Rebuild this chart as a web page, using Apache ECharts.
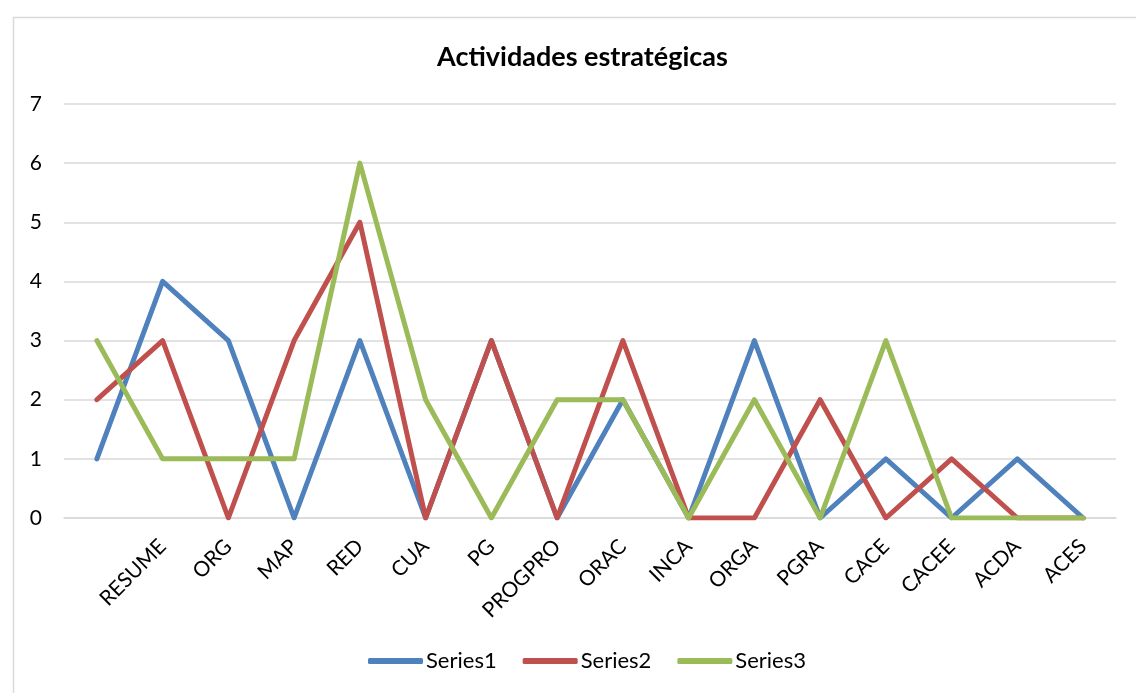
<!DOCTYPE html>
<html>
<head>
<meta charset="utf-8">
<script src="https://cdn.jsdelivr.net/npm/echarts@6/dist/echarts.min.js"></script>
<style>
html,body{margin:0;padding:0;background:#fff;}
#c{width:1136px;height:693px;}
</style>
</head>
<body>
<div id="c"></div>
<script>
const categories = ["", "RESUME", "ORG", "MAP", "RED", "CUA", "PG", "PROGPRO", "ORAC", "INCA", "ORGA", "PGRA", "CACE", "CACEE", "ACDA", "ACES"];
const series1 = [1, 4, 3, 0, 3, 0, 3, 0, 2, 0, 3, 0, 1, 0, 1, 0];
const series2 = [2, 3, 0, 3, 5, 0, 3, 0, 3, 0, 0, 2, 0, 1, 0, 0];
const series3 = [3, 1, 1, 1, 6, 2, 0, 2, 2, 0, 2, 0, 3, 0, 0, 0];
const yTicks = [0, 1, 2, 3, 4, 5, 6, 7];

const FONT = 'Lato, "Open Sans", sans-serif';
const chart = echarts.init(document.getElementById('c'));
function mk(name, data, color) {
  return {
    name: name, type: 'line', data: data, symbol: 'none',
    lineStyle: { color: color, width: 5, cap: 'round', join: 'round' },
    itemStyle: { color: color },
    animation: false
  };
}
chart.setOption({
  backgroundColor: '#fff',
  animation: false,
  graphic: [{
    type: 'rect', left: 11, top: 15, silent: true, z: -10,
    shape: { width: 1140, height: 700 },
    style: { fill: 'none', stroke: '#d9d9d9', lineWidth: 1.5 }
  }],
  title: {
    text: 'Actividades estratégicas',
    left: 432, top: 39,
    textStyle: { fontFamily: FONT, fontWeight: 'bold', fontSize: 27, color: '#000' }
  },
  legend: {
    bottom: 16, left: 363,
    icon: 'roundRect',
    itemWidth: 55, itemHeight: 6, itemGap: 26,
    textStyle: { fontFamily: FONT, fontSize: 22, color: '#000', padding: [0, 0, 0, -2] },
    data: ['Series1', 'Series2', 'Series3']
  },
  grid: { left: 64, right: 20, top: 104, bottom: 175, containLabel: false },
  xAxis: {
    type: 'category', data: categories, boundaryGap: true,
    axisLine: { show: true, lineStyle: { color: '#d9d9d9', width: 1.5 } },
    axisTick: { show: false },
    axisLabel: { interval: 0, rotate: 45, margin: 25, fontFamily: FONT, fontSize: 21, color: '#000' }
  },
  yAxis: {
    type: 'value', min: yTicks[0], max: yTicks[yTicks.length - 1], interval: 1,
    axisLine: { show: false }, axisTick: { show: false },
    splitLine: { lineStyle: { color: '#d9d9d9', width: 1.5 } },
    axisLabel: { margin: 22, fontFamily: FONT, fontSize: 21, color: '#000' }
  },
  series: [
    mk('Series1', series1, '#4f81bd'),
    mk('Series2', series2, '#c0504d'),
    mk('Series3', series3, '#9bbb59')
  ]
});
</script>
</body>
</html>
